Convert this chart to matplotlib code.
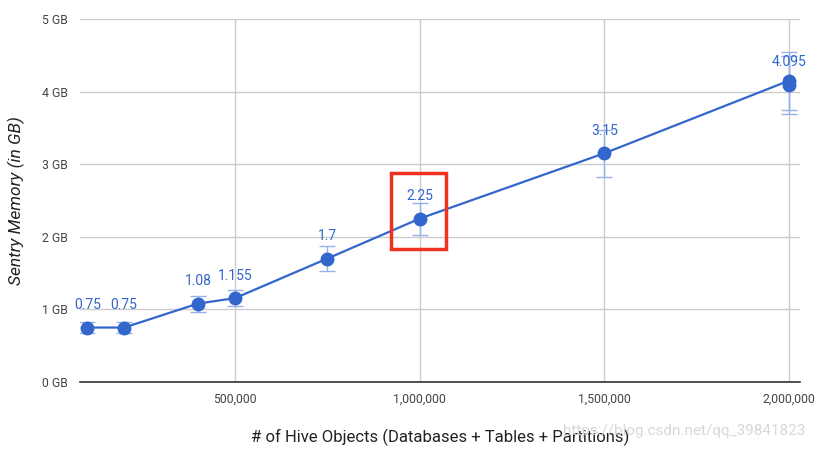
import matplotlib
matplotlib.use("Agg")
import matplotlib.pyplot as plt
from matplotlib.patches import Rectangle
from matplotlib.ticker import FuncFormatter

# data
objects = [100000, 200000, 400000, 500000, 750000, 1000000, 1500000, 2000000, 2000000]
memory_gb = [0.75, 0.75, 1.08, 1.155, 1.7, 2.25, 3.15, 4.15, 4.095]
errors = [0.07, 0.07, 0.11, 0.11, 0.17, 0.22, 0.32, 0.40, 0.40]
labels = ["0.75", "0.75", "1.08", "1.155", "1.7", "2.25", "3.15", "", "4.095"]
x_ticks = [500000, 1000000, 1500000, 2000000]
y_ticks = [0, 1, 2, 3, 4, 5]
highlight_index = 5

plt.rcParams['font.family'] = ['Roboto', 'DejaVu Sans']

fig = plt.figure(figsize=(8.15, 4.49), dpi=100)
ax = fig.add_axes([80/815, 1-382/449, 720/815, 363/449])

blue = '#3366cc'
ax.errorbar(objects, memory_gb, yerr=errors, fmt='none', ecolor='#94b2ea',
            elinewidth=1, capsize=6, capthick=1, zorder=2)
ax.plot(objects, memory_gb, color=blue, linewidth=1.6, marker='o',
        markersize=9, zorder=3)

for x, y, t in zip(objects, memory_gb, labels):
    if t:
        ax.annotate(t, (x, y), xytext=(0, 11), textcoords='offset points',
                    ha='center', va='bottom', color=blue, fontsize=10)

ax.set_xlim(80400, 2030000)
ax.set_ylim(0, 5)
ax.set_xticks(x_ticks)
ax.set_yticks(y_ticks)
ax.xaxis.set_major_formatter(FuncFormatter(lambda v, p: f"{int(v):,}"))
ax.yaxis.set_major_formatter(FuncFormatter(lambda v, p: f"{int(v)} GB"))
ax.grid(True, color='#cccccc', linewidth=1)
ax.set_axisbelow(True)
for s in ['top', 'right', 'left']:
    ax.spines[s].set_visible(False)
ax.spines['bottom'].set_color('#333333')
ax.spines['bottom'].set_linewidth(1.2)
ax.tick_params(axis='both', length=0, labelsize=8.8, colors='#444444')
ax.tick_params(axis='x', pad=8)
ax.tick_params(axis='y', pad=9)

ax.set_xlabel("# of Hive Objects (Databases + Tables + Partitions)",
              fontsize=12, color='#222222', labelpad=16)
ax.set_ylabel("Sentry Memory (in GB)", fontsize=12.5, style='italic',
              color='#222222', labelpad=12)

# highlight box around the selected point
hx, hy = objects[highlight_index], memory_gb[highlight_index]
rect = Rectangle((hx - 77000, hy - 0.42), 148000, 1.05, fill=False,
                 edgecolor='#f0311f', linewidth=2.5, zorder=5, clip_on=False)
ax.add_patch(rect)

fig.text(0.988, 0.04, "https://blog.csdn.net/qq_39841823", ha='right',
         va='center', color='#d8d8d8', fontsize=11)

fig.savefig("out.png", dpi=100)
